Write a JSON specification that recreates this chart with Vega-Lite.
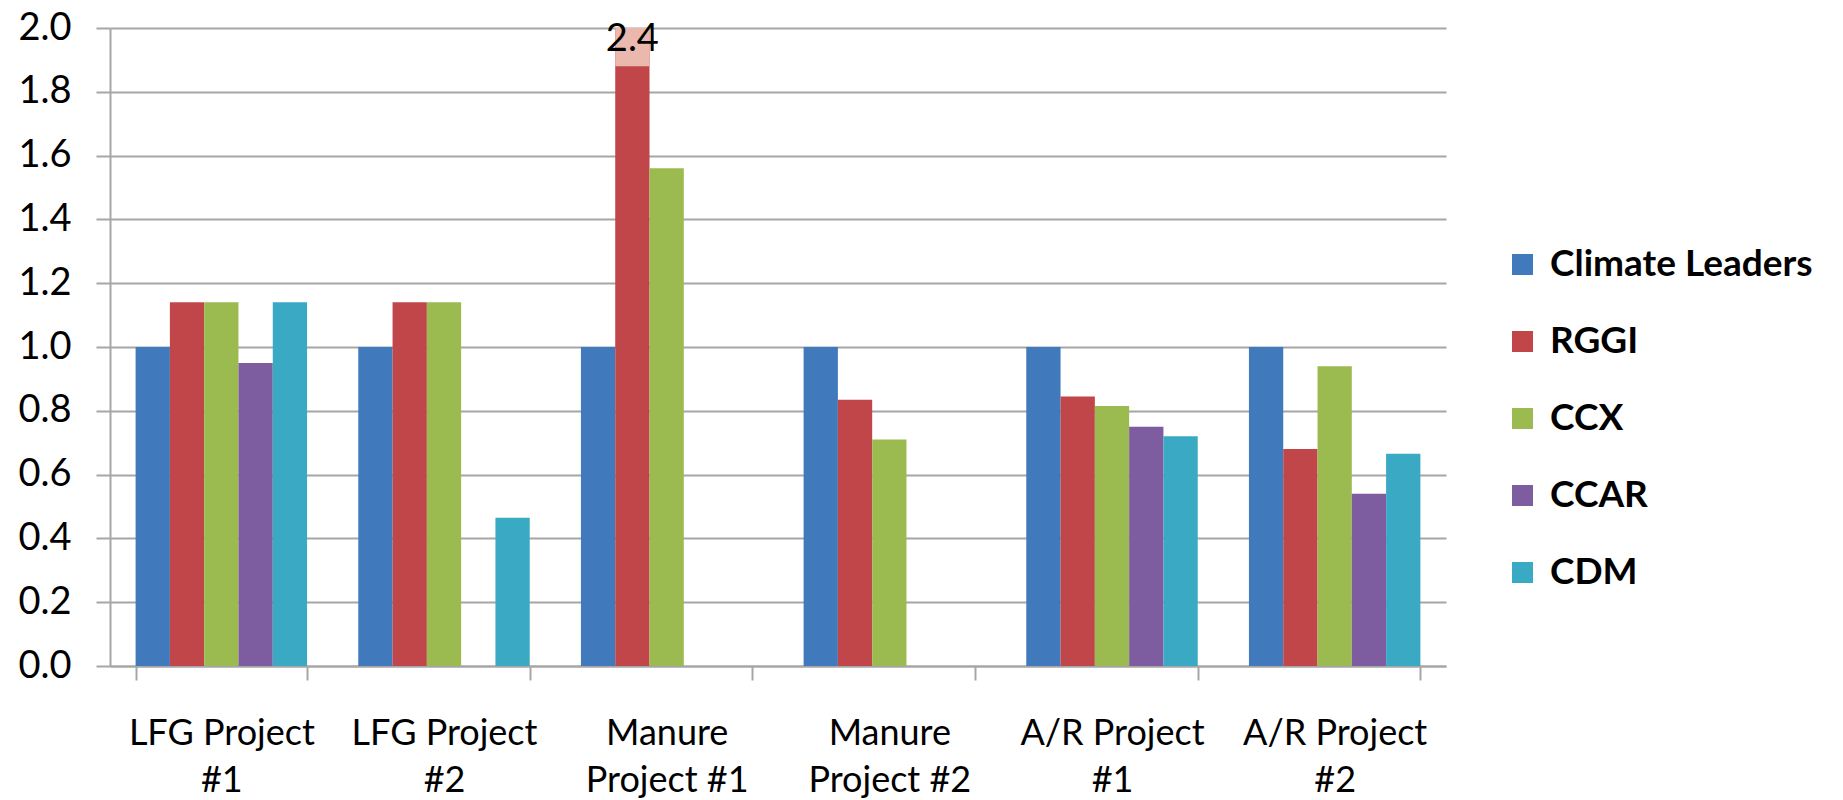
{
  "$schema": "https://vega.github.io/schema/vega-lite/v6.json",
  "width": 1336,
  "height": 638,
  "autosize": "none",
  "padding": {"left": 110, "top": 28, "right": 397, "bottom": 134},
  "background": "white",
  "config": {"font": "Lato", "view": {"stroke": null}},
  "data": {
    "values": [
      {"project": "LFG Project #1", "series": "Climate Leaders", "value": 1.0},
      {"project": "LFG Project #1", "series": "RGGI", "value": 1.14},
      {"project": "LFG Project #1", "series": "CCX", "value": 1.14},
      {"project": "LFG Project #1", "series": "CCAR", "value": 0.95},
      {"project": "LFG Project #1", "series": "CDM", "value": 1.14},
      {"project": "LFG Project #2", "series": "Climate Leaders", "value": 1.0},
      {"project": "LFG Project #2", "series": "RGGI", "value": 1.14},
      {"project": "LFG Project #2", "series": "CCX", "value": 1.14},
      {"project": "LFG Project #2", "series": "CDM", "value": 0.465},
      {"project": "Manure Project #1", "series": "Climate Leaders", "value": 1.0},
      {"project": "Manure Project #1", "series": "RGGI", "value": 2.4, "label": "2.4"},
      {"project": "Manure Project #1", "series": "CCX", "value": 1.56},
      {"project": "Manure Project #2", "series": "Climate Leaders", "value": 1.0},
      {"project": "Manure Project #2", "series": "RGGI", "value": 0.835},
      {"project": "Manure Project #2", "series": "CCX", "value": 0.71},
      {"project": "A/R Project #1", "series": "Climate Leaders", "value": 1.0},
      {"project": "A/R Project #1", "series": "RGGI", "value": 0.845},
      {"project": "A/R Project #1", "series": "CCX", "value": 0.815},
      {"project": "A/R Project #1", "series": "CCAR", "value": 0.75},
      {"project": "A/R Project #1", "series": "CDM", "value": 0.72},
      {"project": "A/R Project #2", "series": "Climate Leaders", "value": 1.0},
      {"project": "A/R Project #2", "series": "RGGI", "value": 0.68},
      {"project": "A/R Project #2", "series": "CCX", "value": 0.94},
      {"project": "A/R Project #2", "series": "CCAR", "value": 0.54},
      {"project": "A/R Project #2", "series": "CDM", "value": 0.665}
    ]
  },
  "encoding": {
    "x": {
      "field": "project",
      "type": "nominal",
      "sort": null,
      "scale": {"type": "band", "paddingInner": 0.23, "paddingOuter": 0.115},
      "axis": {
        "title": null,
        "labelAngle": 0,
        "tickBand": "extent",
        "tickSize": 14,
        "tickColor": "#a6a6a6",
        "tickWidth": 2,
        "domainColor": "#a6a6a6",
        "domainWidth": 2,
        "labelFontSize": 36,
        "labelColor": "#000000",
        "labelPadding": 36,
        "labelLineHeight": 47,
        "labelLimit": 0,
        "labelExpr": "!isString(datum.value) ? '' : indexof(datum.value, 'Manure') == 0 ? ['Manure', slice(datum.value, 7)] : [slice(datum.value, 0, lastindexof(datum.value, ' ')), slice(datum.value, lastindexof(datum.value, ' ') + 1)]"
      }
    },
    "xOffset": {
      "field": "series",
      "type": "nominal",
      "sort": ["Climate Leaders", "RGGI", "CCX", "CCAR", "CDM"],
      "scale": {"type": "band", "domain": ["Climate Leaders", "RGGI", "CCX", "CCAR", "CDM"], "paddingInner": 0, "paddingOuter": 0}
    }
  },
  "layer": [
    {
      "mark": {"type": "bar", "clip": true},
      "encoding": {
        "y": {
          "field": "value",
          "type": "quantitative",
          "scale": {"domain": [0, 2], "nice": false},
          "axis": {
            "title": null,
            "values": [0, 0.2, 0.4, 0.6, 0.8, 1.0, 1.2, 1.4, 1.6, 1.8, 2.0],
            "format": ".1f",
            "labelFontSize": 38,
            "labelColor": "#000000",
            "labelPadding": 25,
            "tickSize": 14,
            "tickColor": "#a6a6a6",
            "tickWidth": 2,
            "domainColor": "#a6a6a6",
            "domainWidth": 2,
            "gridColor": "#a6a6a6",
            "gridWidth": 2
          }
        },
        "color": {
          "field": "series",
          "type": "nominal",
          "sort": ["Climate Leaders", "RGGI", "CCX", "CCAR", "CDM"],
          "scale": {
            "domain": ["Climate Leaders", "RGGI", "CCX", "CCAR", "CDM"],
            "range": ["#4179BD", "#C0464A", "#9BBB50", "#7D5DA0", "#3AA9C4"]
          },
          "legend": {
            "title": null,
            "orient": "none",
            "legendX": 1394,
            "legendY": 218,
            "symbolType": "square",
            "symbolSize": 441,
            "symbolStrokeWidth": 0,
            "labelFontSize": 37,
            "labelFontWeight": "bold",
            "labelColor": "#000000",
            "labelOffset": 9,
            "labelLimit": 0,
            "rowPadding": 39
          }
        }
      }
    },
    {
      "transform": [{"filter": "isValid(datum.label)"}],
      "mark": {"type": "bar", "color": "#EBB8AE"},
      "encoding": {
        "y": {"datum": 1.88, "type": "quantitative"},
        "y2": {"datum": 2.0}
      }
    },
    {
      "transform": [{"filter": "isValid(datum.label)"}],
      "mark": {"type": "text", "fontSize": 38, "color": "#000000", "baseline": "middle"},
      "encoding": {
        "y": {"datum": 1.962, "type": "quantitative"},
        "text": {"field": "label"}
      }
    }
  ]
}
